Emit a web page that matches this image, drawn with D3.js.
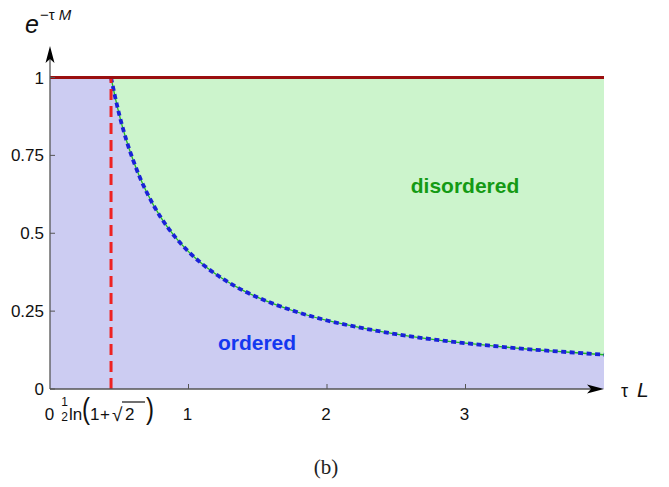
<!DOCTYPE html>
<html>
<head>
<meta charset="utf-8">
<script src="https://cdn.jsdelivr.net/npm/d3@7"></script>
<style>
  html, body { margin: 0; padding: 0; background: #fff; }
  svg { display: block; font-family: "Liberation Sans", Arial, sans-serif; }
</style>
</head>
<body>
<svg id="chart" width="669" height="487"></svg>
<script>
// Phase boundary: tau*L versus e^(-tau*M)
const boundaryX = [0.4407, 0.47, 0.5, 0.55, 0.6, 0.65, 0.7, 0.8, 0.9, 1.0, 1.1, 1.25, 1.4, 1.5, 1.75, 2.0, 2.25, 2.5, 2.75, 3.0, 3.25, 3.5, 3.75, 4.0];
const boundaryY = [1.0, 0.938, 0.881, 0.801, 0.735, 0.678, 0.630, 0.551, 0.490, 0.441, 0.401, 0.353, 0.315, 0.294, 0.252, 0.220, 0.196, 0.176, 0.160, 0.147, 0.136, 0.126, 0.118, 0.110];
const criticalX = 0.4407;
const xTicks = [1, 2, 3];
const xTickLabels = ["1", "2", "3"];
const yTicks = [0, 0.25, 0.5, 0.75, 1];
const yTickLabels = ["0", "0.25", "0.5", "0.75", "1"];
const xDomain = [0, 4];
const yDomain = [0, 1];

const svg = d3.select("#chart");
const x = d3.scaleLinear().domain(xDomain).range([50, 604]);
const y = d3.scaleLinear().domain(yDomain).range([389, 77.5]);

const pts = boundaryX.map((v, i) => [v, boundaryY[i]]);
const line = d3.line().x(d => x(d[0])).y(d => y(d[1]));

// ordered region (below curve and left of the critical line)
const ordered = [[0, 0], [0, 1], ...pts, [xDomain[1], 0]];
svg.append("path").attr("d", line(ordered) + "Z").attr("fill", "#ccccf2");

// disordered region (above curve)
const disordered = [...pts, [xDomain[1], 1]];
svg.append("path").attr("d", line(disordered) + "Z").attr("fill", "#ccf4cc");

const curve = d3.line().x(d => x(d[0])).y(d => y(d[1])).curve(d3.curveMonotoneX);

// boundary: thin green line with blue dashes on top
svg.append("path").attr("d", curve(pts))
  .attr("fill", "none").attr("stroke", "#22bb22").attr("stroke-width", 1.3);
svg.append("path").attr("d", curve(pts))
  .attr("fill", "none").attr("stroke", "#1a22d8").attr("stroke-width", 3.8)
  .attr("stroke-dasharray", "5,3.5");

// critical line
svg.append("line")
  .attr("x1", x(criticalX)).attr("x2", x(criticalX))
  .attr("y1", y(0)).attr("y2", y(1))
  .attr("stroke", "#ee2222").attr("stroke-width", 3)
  .attr("stroke-dasharray", "11,6");

// top boundary at e^{-tau M} = 1
svg.append("line")
  .attr("x1", x(0)).attr("x2", x(xDomain[1]))
  .attr("y1", y(1)).attr("y2", y(1))
  .attr("stroke", "#9a0f0f").attr("stroke-width", 3);

// axes with arrowheads
const axisColor = "#555";
const xr = x(xDomain[1]);
svg.append("line").attr("x1", x(0)).attr("x2", xr - 12)
  .attr("y1", y(0)).attr("y2", y(0)).attr("stroke", axisColor).attr("stroke-width", 1.3);
svg.append("path")
  .attr("d", `M${xr},${y(0)} L${xr - 17},${y(0) - 4.5} L${xr - 13},${y(0)} L${xr - 17},${y(0) + 4.5}Z`)
  .attr("fill", "#000");
svg.append("line").attr("x1", x(0)).attr("x2", x(0))
  .attr("y1", y(0)).attr("y2", 58).attr("stroke", axisColor).attr("stroke-width", 1.3);
svg.append("path")
  .attr("d", `M${x(0)},46 L${x(0) - 4.5},63 L${x(0)},59 L${x(0) + 4.5},63Z`)
  .attr("fill", "#000");

// ticks
svg.selectAll(".xt").data(xTicks).enter().append("line")
  .attr("x1", d => x(d)).attr("x2", d => x(d))
  .attr("y1", y(0)).attr("y2", y(0) - 5).attr("stroke", axisColor).attr("stroke-width", 1);
svg.selectAll(".yt").data(yTicks).enter().append("line")
  .attr("x1", x(0)).attr("x2", x(0) + 5)
  .attr("y1", d => y(d)).attr("y2", d => y(d)).attr("stroke", axisColor).attr("stroke-width", 1);

svg.selectAll(".xl").data(xTicks).enter().append("text")
  .attr("x", d => x(d) - 1).attr("y", 420).attr("text-anchor", "middle")
  .attr("font-size", 17).attr("fill", "#111").text((d, i) => xTickLabels[i]);
svg.selectAll(".yl").data(yTicks).enter().append("text")
  .attr("x", 44).attr("y", d => y(d) + 6).attr("text-anchor", "end")
  .attr("font-size", 17).attr("fill", "#111").text((d, i) => yTickLabels[i]);

// x-axis origin label and critical point label: 0  ½ ln(1 + √2)
svg.append("text").attr("x", 49.5).attr("y", 420).attr("text-anchor", "middle")
  .attr("font-size", 17).attr("fill", "#111").text("0");
const crit = svg.append("g").attr("fill", "#111");
crit.append("text").attr("x", 64.5).attr("y", 405.5).attr("text-anchor", "middle").attr("font-size", 12).text("1");
crit.append("text").attr("x", 64.5).attr("y", 420.5).attr("text-anchor", "middle").attr("font-size", 12).text("2");
crit.append("text").attr("x", 69).attr("y", 420).attr("font-size", 17).text("ln");
crit.append("text").attr("x", 82).attr("y", 419).attr("font-size", 24)
  .attr("transform", "translate(82,419) scale(1,1.25) translate(-82,-419)").text("(");
crit.append("text").attr("x", 90).attr("y", 420).attr("font-size", 17).text("1");
crit.append("text").attr("x", 100).attr("y", 420).attr("font-size", 17).text("+");
crit.append("text").attr("x", 112).attr("y", 421).attr("font-size", 19).text("√");
crit.append("line").attr("x1", 122).attr("x2", 145).attr("y1", 402).attr("y2", 402)
  .attr("stroke", "#111").attr("stroke-width", 1.2);
crit.append("text").attr("x", 125).attr("y", 420).attr("font-size", 17).text("2");
crit.append("text").attr("x", 146).attr("y", 419).attr("font-size", 24)
  .attr("transform", "translate(146,419) scale(1,1.25) translate(-146,-419)").text(")");

// axis titles
const yt = svg.append("text").attr("x", 25).attr("y", 33).attr("fill", "#111");
yt.append("tspan").attr("font-size", 25).attr("font-style", "italic").text("e");
yt.append("tspan").attr("dx", 1).attr("dy", -13).attr("font-size", 15).text("−τ ");
yt.append("tspan").attr("font-size", 15).attr("font-style", "italic").text("M");

svg.append("text").attr("x", 621).attr("y", 397).attr("font-size", 18).attr("fill", "#111").text("τ");
svg.append("text").attr("x", 637).attr("y", 397).attr("font-size", 21)
  .attr("font-style", "italic").attr("fill", "#111").text("L");

// region labels
svg.append("text").attr("x", 465).attr("y", 193).attr("text-anchor", "middle")
  .attr("font-size", 21).attr("font-weight", "bold").attr("fill", "#149a14").text("disordered");
svg.append("text").attr("x", 257).attr("y", 350).attr("text-anchor", "middle")
  .attr("font-size", 21).attr("font-weight", "bold").attr("fill", "#1438f0").text("ordered");

// caption
svg.append("text").attr("x", 326).attr("y", 474).attr("text-anchor", "middle")
  .attr("font-family", "'Liberation Serif', 'DejaVu Serif', serif").attr("font-size", 21)
  .attr("fill", "#222").text("(b)");
</script>
</body>
</html>
